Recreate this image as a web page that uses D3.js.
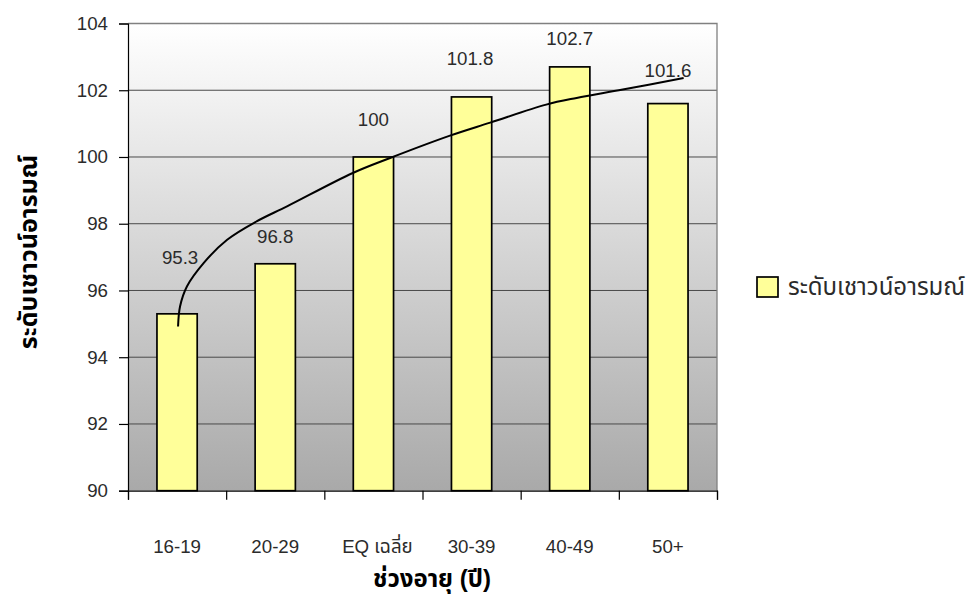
<!DOCTYPE html>
<html>
<head>
<meta charset="utf-8">
<script src="https://cdn.jsdelivr.net/npm/d3@7"></script>
<style>
  html, body { margin: 0; padding: 0; background: #ffffff; }
  svg { display: block; }
  text { font-family: "Liberation Sans", Arial, "Noto Sans Thai", "Loma", "Garuda", sans-serif; }
</style>
</head>
<body>
<svg id="chart" width="978" height="597"></svg>
<script>
// ---- data ----
const categories = ["16-19", "20-29", "EQ เฉลี่ย", "30-39", "40-49", "50+"];
const eqValues = [95.3, 96.8, 100, 101.8, 102.7, 101.6];
const yTicks = [90, 92, 94, 96, 98, 100, 102, 104];
// hand-drawn trend curve: position along the category axis (0 = first bar centre) and level
const trendPos = [0.01, 0.03, 0.10, 0.27, 0.51, 0.81, 1.12, 1.79, 2.17, 2.78, 3.19, 3.76, 4.07, 4.54, 5.16];
const trendVal = [94.92, 95.52, 96.12, 96.82, 97.52, 98.07, 98.52, 99.52, 99.97, 100.64, 101.03, 101.57, 101.77, 102.02, 102.37];
const seriesName = "ระดับเชาวน์อารมณ์";
const xTitle = "ช่วงอายุ (ปี)";
const yTitle = "ระดับเชาวน์อารมณ์";

// per-label nudges (px) for the value labels
const labelDx = [3, 0, 0, -1.5, 0, 0];
const labelDy = [50, 21, 31, 32, 22, 27];

// ---- layout ----
const plot = { left: 128, right: 717, top: 23.5, bottom: 490.7 };
const svg = d3.select("#chart");

const x = d3.scaleBand().domain(categories).range([plot.left, plot.right]).padding(0);
const xPos = d3.scaleLinear().domain([-0.5, categories.length - 0.5]).range([plot.left, plot.right]);
const y = d3.scaleLinear().domain([90, 104]).range([plot.bottom, plot.top]);
const barW = x.bandwidth() * 0.41;

// background gradient of the plot area
const defs = svg.append("defs");
const grad = defs.append("linearGradient").attr("id", "bg").attr("x1", 0).attr("y1", 0).attr("x2", 0).attr("y2", 1);
grad.append("stop").attr("offset", "0%").attr("stop-color", "#ffffff");
grad.append("stop").attr("offset", "100%").attr("stop-color", "#a9a9a9");

svg.append("rect")
  .attr("x", plot.left).attr("y", plot.top)
  .attr("width", plot.right - plot.left).attr("height", plot.bottom - plot.top)
  .attr("fill", "url(#bg)");

// gridlines
svg.append("g").selectAll("line")
  .data(yTicks.filter(t => t > 90 && t < 104))
  .join("line")
  .attr("x1", plot.left).attr("x2", plot.right)
  .attr("y1", d => y(d)).attr("y2", d => y(d))
  .attr("stroke", "#4a4a4a").attr("stroke-width", 1);

// plot frame (top and right)
svg.append("path")
  .attr("d", `M${plot.left},${plot.top}H${plot.right}V${plot.bottom}`)
  .attr("fill", "none").attr("stroke", "#808080").attr("stroke-width", 1.3);

// bars
svg.append("g").selectAll("rect")
  .data(eqValues)
  .join("rect")
  .attr("x", (d, i) => x(categories[i]) + (x.bandwidth() - barW) / 2)
  .attr("y", d => y(d))
  .attr("width", barW)
  .attr("height", d => y(90) - y(d))
  .attr("fill", "#ffff99")
  .attr("stroke", "#000000").attr("stroke-width", 1.7);

// trend curve
const line = d3.line()
  .x((d, i) => xPos(trendPos[i]))
  .y((d) => y(d))
  .curve(d3.curveCatmullRom.alpha(0.5));
svg.append("path")
  .attr("d", line(trendVal))
  .attr("fill", "none").attr("stroke", "#000000").attr("stroke-width", 2);

// value labels
svg.append("g").selectAll("text")
  .data(eqValues)
  .join("text")
  .attr("x", (d, i) => x(categories[i]) + x.bandwidth() / 2 + labelDx[i])
  .attr("y", (d, i) => y(d) - labelDy[i])
  .attr("text-anchor", "middle")
  .attr("font-size", 18.7)
  .attr("fill", "#2b2b2b")
  .text(d => d);

// y axis
const yAxis = d3.axisLeft(y).tickValues(yTicks).tickSize(9).tickPadding(11).tickFormat(d3.format("d"));
const gy = svg.append("g").attr("transform", `translate(${plot.left},0)`).call(yAxis);
gy.select(".domain").attr("stroke", "#000").attr("stroke-width", 1.2);
gy.selectAll(".tick line").attr("stroke", "#000").attr("stroke-width", 1.2);
gy.selectAll(".tick text").attr("font-size", 18.7).attr("fill", "#2b2b2b")
  .attr("font-family", "'Liberation Sans', Arial, sans-serif");

// x axis: ticks sit on the category boundaries
const boundaries = d3.range(categories.length + 1).map(i => i - 0.5);
const xAxis = d3.axisBottom(xPos).tickValues(boundaries).tickSize(9).tickFormat("");
const gx = svg.append("g").attr("transform", `translate(0,${plot.bottom})`).call(xAxis);
gx.select(".domain").attr("stroke", "#000").attr("stroke-width", 1.2);
gx.selectAll(".tick line").attr("stroke", "#000").attr("stroke-width", 1.2);

svg.append("g").selectAll("text")
  .data(categories)
  .join("text")
  .attr("x", d => x(d) + x.bandwidth() / 2 + (d === "EQ เฉลี่ย" ? 4 : 0))
  .attr("y", 553)
  .attr("text-anchor", "middle")
  .attr("font-size", 18.7)
  .attr("fill", "#2b2b2b")
  .text(d => d);

// axis titles
svg.append("text")
  .attr("x", 432).attr("y", 587)
  .attr("text-anchor", "middle")
  .attr("font-size", 24).attr("font-weight", "bold").attr("fill", "#000")
  .text(xTitle);

svg.append("text")
  .attr("transform", "translate(37,252) rotate(-90)")
  .attr("text-anchor", "middle")
  .attr("font-size", 25).attr("font-weight", "bold").attr("fill", "#000")
  .text(yTitle);

// legend
const lg = svg.append("g").attr("transform", "translate(757,277)");
lg.append("rect").attr("width", 21).attr("height", 20)
  .attr("fill", "#ffff99").attr("stroke", "#000").attr("stroke-width", 1.7);
lg.append("text").attr("x", 31).attr("y", 18)
  .attr("font-size", 24).attr("fill", "#2b2b2b")
  .text(seriesName);
</script>
</body>
</html>
